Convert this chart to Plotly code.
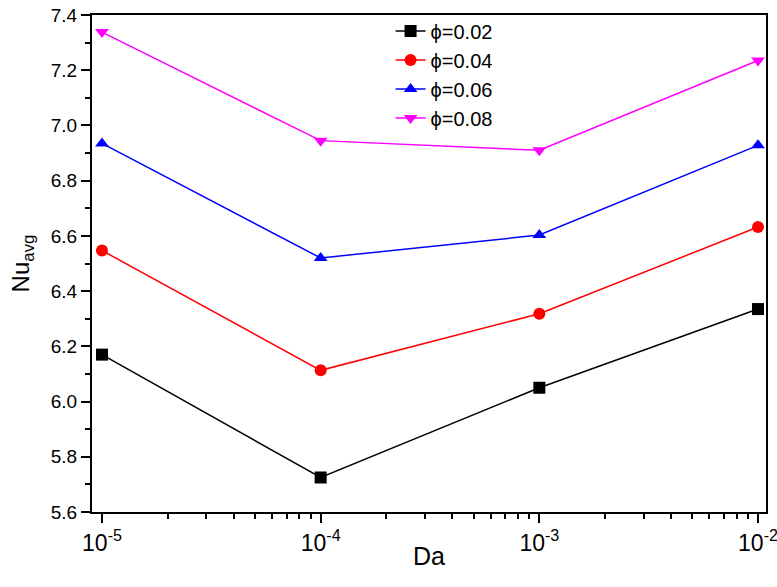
import plotly.graph_objects as go

da = [1e-5, 1e-4, 1e-3, 1e-2]
phi_labels = ["\u03d5=0.02", "\u03d5=0.04", "\u03d5=0.06", "\u03d5=0.08"]
nu_002 = [6.17, 5.725, 6.05, 6.335]
nu_004 = [6.547, 6.113, 6.318, 6.632]
nu_006 = [6.935, 6.52, 6.603, 6.928]
nu_008 = [7.338, 6.945, 6.91, 7.235]
x_tickvals = [1e-5, 1e-4, 1e-3, 1e-2]
x_ticktext = ["10<sup>-5</sup>", "10<sup>-4</sup>", "10<sup>-3</sup>", "10<sup>-2</sup>"]

series = [nu_002, nu_004, nu_006, nu_008]
colors = ["black", "red", "blue", "magenta"]
symbols = ["square", "circle", "triangle-up", "triangle-down"]

# minor tick positions on the log axis (2..9 x 10^k)
minor_vals = [m * 10.0 ** k for k in range(-5, -2) for m in range(2, 10)]

fig = go.Figure()
for lab, ys, c, s in zip(phi_labels, series, colors, symbols):
    fig.add_trace(go.Scatter(
        x=da, y=ys, name=lab, mode="lines+markers",
        line=dict(color=c, width=1.5),
        marker=dict(symbol=s, size=12, color=c, line=dict(width=0)),
        cliponaxis=False,
    ))

W, H = 777, 587
L, R, T, B = 92, 11, 15, 75
plot_h = H - T - B

font = "Liberation Sans, Arial, sans-serif"
fig.update_layout(
    width=W, height=H,
    margin=dict(l=L, r=R, t=T, b=B, autoexpand=False),
    paper_bgcolor="white", plot_bgcolor="white",
    font=dict(family=font, color="black", size=19),
    showlegend=True,
    legend=dict(x=0.443, y=1.007, xanchor="left", yanchor="top",
                bgcolor="rgba(0,0,0,0)", borderwidth=0,
                font=dict(size=20), tracegroupgap=0),
    xaxis=dict(
        type="log", range=[-5.0457, -1.9634], automargin=False,
        tickvals=x_tickvals, ticktext=x_ticktext, ticklabeloverflow="allow",
        ticks="outside", ticklen=9, tickwidth=2, tickcolor="black",
        showline=True, linewidth=2, linecolor="black", mirror=True,
        showgrid=False, zeroline=False,
        minor=dict(tickvals=minor_vals, ticks="outside", ticklen=5, tickwidth=2,
                   tickcolor="black", showgrid=False),
        tickfont=dict(size=23),
    ),
    yaxis=dict(
        range=[5.6, 7.4], dtick=0.2, tickformat=".1f", automargin=False,
        ticks="outside", ticklen=9, tickwidth=2, tickcolor="black",
        showline=True, linewidth=2, linecolor="black", mirror=True,
        showgrid=False, zeroline=False,
        minor=dict(ticks="outside", ticklen=5, tickwidth=2, tickcolor="black",
                   dtick=0.1, showgrid=False),
        tickfont=dict(size=19),
        title=dict(text="Nu<sub>avg</sub>", font=dict(size=24), standoff=14),
    ),
    annotations=[dict(
        text="Da", xref="paper", yref="paper",
        x=0.5, y=-(556 - (H - B)) / plot_h, xanchor="center", yanchor="middle",
        showarrow=False, font=dict(size=25, color="black"),
    )],
)

fig.write_html(
    "out.html",
    config={"displayModeBar": False},
    post_script="document.body.style.margin='0';document.body.style.overflow='hidden';",
)
